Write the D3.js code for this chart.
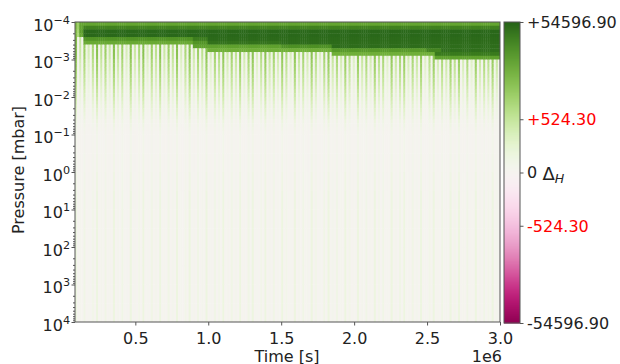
<!DOCTYPE html>
<html>
<head>
<meta charset="utf-8">
<script src="https://cdn.jsdelivr.net/npm/d3@7"></script>
<style>
  body { margin: 0; background: #fff; }
  text { font-family: "DejaVu Sans", sans-serif; }
</style>
</head>
<body>
<svg id="chart" width="620" height="364"></svg>
<script>
// ---- data -----------------------------------------------------------
// time grid (seconds)
const timeStart = 86400;
const timeEnd = 3.0e6;

// pressure cell edges, log10(mbar)
const pressureEdgesLog = [-4.0, -3.9, -3.8, -3.7, -3.6, -3.5, -3.4, -3.3, -3.2, -3.1,
  -3.0, -2.9, -2.8, -2.7, -2.6, -2.5, -2.4, -2.3, -2.2, -2.1,
  -2.0, -1.9, -1.8, -1.7, -1.6, -1.5, -1.4, -1.3, -1.2, -1.1,
  -1.0, -0.5, 0, 0.5, 1, 1.5, 2, 2.5, 3, 3.5, 4];

// strength code of each time step (0 = weak, 9 = strong)
const stripeCodes =
  "90508140709060815091" + "60804190507091408060" + "90518060904071905080" +
  "61904080709150806090" + "50819040709061805090" + "70409160805090714080" +
  "90608051907040906180" + "50907081409060809150" + "80609041709050806190" +
  "70905080419060807091" + "60";
const stripeMultipliers = [0.005, 0.015, 0.03, 0.06, 0.1, 0.16, 0.25, 0.4, 0.6, 1.0];

// ΔH of a full-strength step at each pressure cell
const fadeAmplitude = [3000, 3000, 3000, 3000, 3000, 2900, 2800, 2600, 2400, 2200,
  1700, 1500, 1300, 1120, 960, 800, 680, 560, 460, 380,
  300, 240, 190, 150, 120, 90, 62, 44, 32, 24,
  20, 28, 40, 50, 55, 55, 55, 55, 55, 55];

// upper layer: per pressure cell, runs of [time until, ΔH]
const bandRuns = [
  [[0.11e6, 1500], [3.0e6, 7000]],
  [[0.11e6, 1500], [0.15e6, 8000], [3.0e6, 22000]],
  [[0.11e6, 1200], [0.15e6, 9000], [3.0e6, 48000]],
  [[0.11e6, 1000], [0.15e6, 7000], [3.0e6, 48000]],
  [[0.15e6, 0], [0.9e6, 12000], [1.0e6, 25000], [3.0e6, 46000]],
  [[0.15e6, 0], [0.9e6, 6000], [1.0e6, 12000], [1.5e6, 35000], [3.0e6, 44000]],
  [[0.9e6, 0], [1.5e6, 8000], [1.85e6, 14000], [3.0e6, 42000]],
  [[1.0e6, 0], [1.85e6, 5000], [2.5e6, 10000], [2.6e6, 20000], [3.0e6, 40000]],
  [[1.85e6, 0], [2.55e6, 5000], [3.0e6, 28000]],
  [[2.55e6, 0], [3.0e6, 8000]]
];

const colorMax = 54596.90;
const colorTicks = [54596.90, 524.30, 0, -524.30, -54596.90];
const colorTickLabels = ["+54596.90", "+524.30", "0", "-524.30", "-54596.90"];
const colorTickColors = ["#222", "#ff0000", "#222", "#ff0000", "#222"];

const xTicks = [0.5e6, 1.0e6, 1.5e6, 2.0e6, 2.5e6, 3.0e6];
const xTickLabels = ["0.5", "1.0", "1.5", "2.0", "2.5", "3.0"];
const yTickExponents = [-4, -3, -2, -1, 0, 1, 2, 3, 4];

// ---- scales ---------------------------------------------------------
const svg = d3.select("#chart");
const plot = { left: 75, right: 500, top: 22, bottom: 322 };
const x = d3.scaleLinear().domain([timeStart, timeEnd]).range([plot.left, plot.right]);
const y = d3.scaleLog().domain([1e-4, 1e4]).range([plot.top, plot.bottom]);
const norm = d3.scaleSymlog().constant(47).domain([-colorMax, colorMax]).range([0, 1]).clamp(true);
const color = v => d3.interpolatePiYG(norm(v));

// ---- heatmap cells --------------------------------------------------
const nCols = stripeCodes.length;
const step = (timeEnd - timeStart) / nCols;

function bandValue(r, t) {
  if (r >= bandRuns.length) return 0;
  for (const [tEnd, v] of bandRuns[r]) if (t < tEnd) return v;
  return 0;
}

const cells = [];
for (let c = 0; c < nCols; c++) {
  const t0 = timeStart + c * step, t1 = t0 + step, tm = (t0 + t1) / 2;
  const code = +stripeCodes[c];
  for (let r = 0; r < fadeAmplitude.length; r++) {
    const v = Math.max(bandValue(r, tm), fadeAmplitude[r] * stripeMultipliers[code]);
    cells.push({ t0, t1, p0: Math.pow(10, pressureEdgesLog[r]), p1: Math.pow(10, pressureEdgesLog[r + 1]), v });
  }
}

svg.append("clipPath").attr("id", "plotClip")
  .append("rect").attr("x", plot.left).attr("y", plot.top)
  .attr("width", plot.right - plot.left).attr("height", plot.bottom - plot.top);

svg.append("g").attr("clip-path", "url(#plotClip)")
  .selectAll("rect").data(cells).join("rect")
  .attr("x", d => x(d.t0))
  .attr("width", d => x(d.t1) - x(d.t0) + 0.4)
  .attr("y", d => y(d.p0))
  .attr("height", d => y(d.p1) - y(d.p0) + 0.4)
  .attr("fill", d => color(d.v));

// frame
svg.append("rect").attr("x", plot.left).attr("y", plot.top)
  .attr("width", plot.right - plot.left).attr("height", plot.bottom - plot.top)
  .attr("fill", "none").attr("stroke", "#555").attr("stroke-width", 1);

// ---- axes -----------------------------------------------------------
const axisColor = "#555";
const xAxis = svg.append("g").attr("transform", `translate(0,${plot.bottom})`)
  .call(d3.axisBottom(x).tickValues(xTicks).tickFormat((d, i) => xTickLabels[i]).tickSize(3.5).tickPadding(7));
xAxis.select(".domain").remove();
xAxis.selectAll("line").attr("stroke", axisColor);
xAxis.selectAll("text").attr("font-size", 16).attr("fill", "#222").attr("font-family", "DejaVu Sans");

const majors = yTickExponents.map(e => Math.pow(10, e));
const minors = [];
for (let e = -4; e < 4; e++) for (let m = 2; m <= 9; m++) minors.push(m * Math.pow(10, e));

const yAxis = svg.append("g").attr("transform", `translate(${plot.left},0)`)
  .call(d3.axisLeft(y).tickValues(majors).tickFormat("").tickSize(3.5));
yAxis.select(".domain").remove();
yAxis.selectAll("line").attr("stroke", axisColor);
const yMinor = svg.append("g").attr("transform", `translate(${plot.left},0)`)
  .call(d3.axisLeft(y).tickValues(minors).tickFormat("").tickSize(2));
yMinor.select(".domain").remove();
yMinor.selectAll("line").attr("stroke", axisColor);

// y tick labels 10^k
yTickExponents.forEach(e => {
  const t = svg.append("text")
    .attr("x", 70).attr("y", y(Math.pow(10, e)) + 8.5)
    .attr("text-anchor", "end").attr("font-size", 16).attr("fill", "#222");
  t.append("tspan").text("10");
  t.append("tspan").attr("font-size", 11.2).attr("dy", -7)
    .text(e < 0 ? "\u2212" + Math.abs(e) : String(e));
});

svg.append("text").attr("x", 287).attr("y", 361.5).attr("text-anchor", "middle")
  .attr("font-size", 16).attr("fill", "#222").text("Time [s]");
svg.append("text").attr("x", 502).attr("y", 361.5).attr("text-anchor", "end")
  .attr("font-size", 16).attr("fill", "#222").text("1e6");
svg.append("text").attr("transform", "translate(23.5,170) rotate(-90)")
  .attr("text-anchor", "middle").attr("font-size", 16).attr("fill", "#222").text("Pressure [mbar]");

// ---- colorbar -------------------------------------------------------
const cb = { left: 504, right: 520, top: 22, bottom: 323 };
const cbY = d3.scaleLinear().domain([0, 1]).range([cb.bottom, cb.top]);
const cbSteps = d3.range(0, 1, 1 / 300);
svg.append("g").selectAll("rect").data(cbSteps).join("rect")
  .attr("x", cb.left).attr("width", cb.right - cb.left)
  .attr("y", d => cbY(d + 1 / 300))
  .attr("height", d => cbY(d) - cbY(d + 1 / 300) + 0.5)
  .attr("fill", d => d3.interpolatePiYG(d + 0.5 / 300));
svg.append("rect").attr("x", cb.left).attr("y", cb.top)
  .attr("width", cb.right - cb.left).attr("height", cb.bottom - cb.top)
  .attr("fill", "none").attr("stroke", "#555").attr("stroke-width", 1);

const cbValueY = v => cbY(norm(v));
const cbAxis = svg.append("g").attr("transform", `translate(${cb.right},0)`)
  .call(d3.axisRight(cbY).tickValues(colorTicks.map(v => norm(v))).tickFormat("").tickSize(3.5));
cbAxis.select(".domain").remove();
cbAxis.selectAll("line").attr("stroke", axisColor);

colorTicks.forEach((v, i) => {
  svg.append("text").attr("x", 527).attr("y", cbValueY(v) + 5.8)
    .attr("font-size", 16).attr("fill", colorTickColors[i]).text(colorTickLabels[i]);
});

const dl = svg.append("text").attr("x", 542.5).attr("y", 179.5).attr("font-size", 18).attr("fill", "#222");
dl.append("tspan").text("\u0394");
dl.append("tspan").attr("font-size", 12.6).attr("font-style", "italic").attr("dy", 3.5).text("H");
</script>
</body>
</html>
